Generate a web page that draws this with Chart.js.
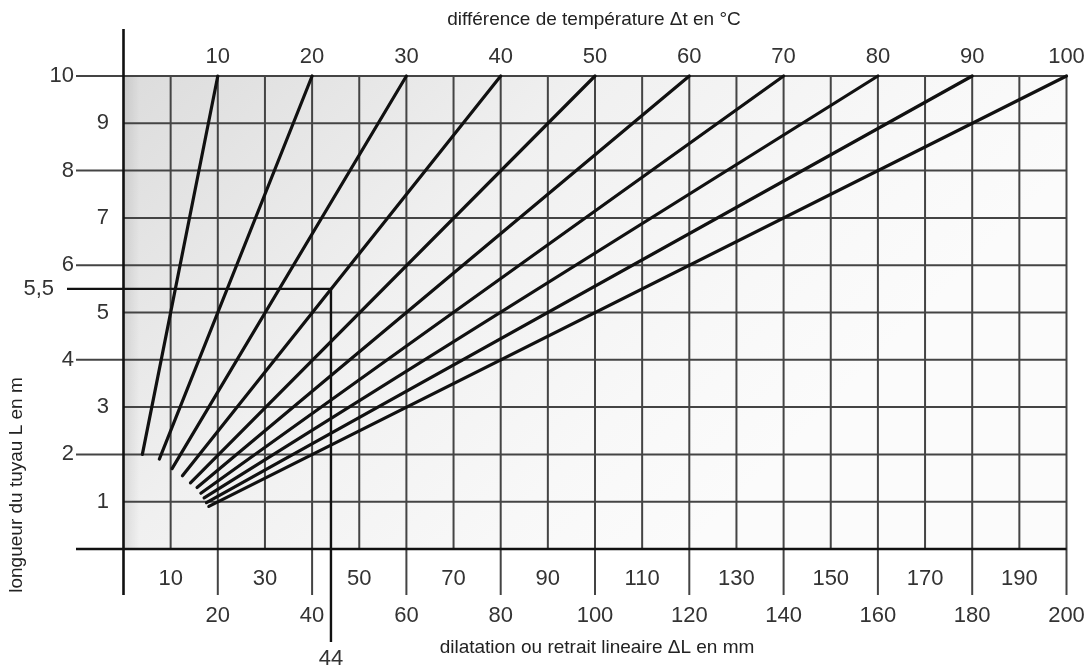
<!DOCTYPE html>
<html lang="fr">
<head>
<meta charset="utf-8">
<title>Dilatation linéaire</title>
<script src="https://cdn.jsdelivr.net/npm/chart.js@4.4.1/dist/chart.umd.min.js"></script>
<style>
    html, body { margin: 0; padding: 0; background: #fff; }
    .wrap { width: 1091px; height: 666px; position: relative; }
</style>
</head>
<body>
<div class="wrap"><canvas id="abaque"></canvas></div>
<script>
// différence de température Δt (une droite par valeur)
const deltaT = [10, 20, 30, 40, 50, 60, 70, 80, 90, 100];
// point de départ de chaque droite
const startDL = [4, 7.6, 10.3, 12.5, 14.2, 15.6, 16.4, 17.1, 17.6, 18.1];
const startL  = [2.0, 1.9, 1.7, 1.55, 1.4, 1.3, 1.18, 1.08, 0.98, 0.9];
// point d'arrivée (L = 10 m)
const endDL = [20, 40, 60, 80, 100, 120, 140, 160, 180, 200];
const endL  = [10, 10, 10, 10, 10, 10, 10, 10, 10, 10];

// graduations
const gridX = [10, 20, 30, 40, 50, 60, 70, 80, 90, 100, 110, 120, 130, 140, 150, 160, 170, 180, 190, 200];
const bottomOdd  = [10, 30, 50, 70, 90, 110, 130, 150, 170, 190];
const bottomEven = [20, 40, 60, 80, 100, 120, 140, 160, 180, 200];
const gridY = [1, 2, 3, 4, 5, 6, 7, 8, 9, 10];
const leftEven = [2, 4, 6, 8, 10];
const leftOdd  = [1, 3, 5, 7, 9];

// exemple de lecture : L = 5,5 m -> ΔL = 44 mm
const exampleL = 5.5;
const exampleDL = 44;

const FONT = '"Liberation Sans", Arial, Helvetica, sans-serif';

const datasets = deltaT.map((t, i) => ({
    label: 'Δt ' + t,
    data: [
        { x: startDL[i], y: startL[i] },
        { x: endDL[i], y: endL[i] }
    ],
    showLine: true,
    borderColor: '#111',
    borderWidth: 3.2,
    pointRadius: 0,
    borderCapStyle: 'round',
    clip: false
}));

// dessin de la grille, des axes et des textes
const abaquePlugin = {
    id: 'abaque',
    beforeDatasetsDraw(chart) {
        const ctx = chart.ctx;
        const xs = chart.scales.x;
        const ys = chart.scales.y;
        const a = chart.chartArea;
        const px = v => xs.getPixelForValue(v);
        const py = v => ys.getPixelForValue(v);

        ctx.save();
        // fond dégradé (diagonale à 45°)
        const g = ctx.createLinearGradient(a.left, a.top, a.left + 520, a.top + 520);
        g.addColorStop(0, '#dcdcdc');
        g.addColorStop(0.45, '#f0f0f0');
        g.addColorStop(0.8, '#f8f8f8');
        g.addColorStop(1, '#fbfbfb');
        ctx.fillStyle = g;
        ctx.fillRect(px(0), py(10), px(200) - px(0), py(0) - py(10));
        const s = ctx.createLinearGradient(px(0), 0, px(0) + 16, 0);
        s.addColorStop(0, 'rgba(0,0,0,0.09)');
        s.addColorStop(1, 'rgba(0,0,0,0)');
        ctx.fillStyle = s;
        ctx.fillRect(px(0), py(10), 16, py(0) - py(10));

        // grille verticale
        ctx.strokeStyle = '#444';
        ctx.lineWidth = 2;
        gridX.forEach(v => {
            ctx.beginPath();
            ctx.moveTo(px(v), py(10));
            ctx.lineTo(px(v), bottomEven.includes(v) ? 595 : py(0));
            ctx.stroke();
        });
        // grille horizontale
        gridY.forEach(v => {
            ctx.beginPath();
            ctx.moveTo(leftEven.includes(v) ? 76 : px(0), py(v));
            ctx.lineTo(px(200), py(v));
            ctx.stroke();
        });

        // axes
        ctx.strokeStyle = '#111';
        ctx.lineWidth = 2.6;
        ctx.beginPath();
        ctx.moveTo(px(0), 29);
        ctx.lineTo(px(0), 595);
        ctx.moveTo(76, py(0));
        ctx.lineTo(px(200), py(0));
        ctx.stroke();

        // textes des graduations
        ctx.fillStyle = '#333';
        ctx.font = '22px ' + FONT;
        ctx.textBaseline = 'middle';
        ctx.textAlign = 'center';
        deltaT.forEach((t, i) => ctx.fillText(String(t), px(endDL[i]), 57));
        bottomOdd.forEach(v => ctx.fillText(String(v), px(v), 579));
        bottomEven.forEach(v => ctx.fillText(String(v), px(v), 616));
        ctx.textAlign = 'right';
        leftEven.forEach(v => ctx.fillText(String(v), 74, py(v)));
        leftOdd.forEach(v => ctx.fillText(String(v), 109, py(v)));

        // titres
        ctx.font = '19px ' + FONT;
        ctx.textAlign = 'center';
        ctx.fillStyle = '#222';
        ctx.fillText('différence de température Δt en °C', 594, 20);
        ctx.fillText('dilatation ou retrait lineaire ΔL en mm', 597, 648);
        ctx.save();
        ctx.translate(17, 485);
        ctx.rotate(-Math.PI / 2);
        ctx.fillText('longueur du tuyau L en m', 0, 0);
        ctx.restore();
        ctx.restore();
    },
    afterDatasetsDraw(chart) {
        const ctx = chart.ctx;
        const px = v => chart.scales.x.getPixelForValue(v);
        const py = v => chart.scales.y.getPixelForValue(v);
        ctx.save();
        ctx.strokeStyle = '#111';
        ctx.lineWidth = 2.4;
        ctx.beginPath();
        ctx.moveTo(67, py(exampleL));
        ctx.lineTo(px(exampleDL), py(exampleL));
        ctx.lineTo(px(exampleDL), 642);
        ctx.stroke();
        ctx.fillStyle = '#333';
        ctx.font = '22px ' + FONT;
        ctx.textBaseline = 'middle';
        ctx.textAlign = 'right';
        ctx.fillText('5,5', 54, py(exampleL));
        ctx.textAlign = 'center';
        ctx.fillText(String(exampleDL), px(exampleDL), 659);
        ctx.restore();
    }
};

new Chart(document.getElementById('abaque'), {
    type: 'scatter',
    data: { datasets: datasets },
    options: {
        responsive: true,
        maintainAspectRatio: false,
        animation: false,
        layout: {
            padding: { left: 123.5, right: 24.5, top: 76, bottom: 117 }
        },
        plugins: {
            legend: { display: false },
            tooltip: { enabled: false }
        },
        scales: {
            x: { type: 'linear', min: 0, max: 200, display: false },
            y: { type: 'linear', min: 0, max: 10, display: false }
        }
    },
    plugins: [abaquePlugin]
});
</script>
</body>
</html>
